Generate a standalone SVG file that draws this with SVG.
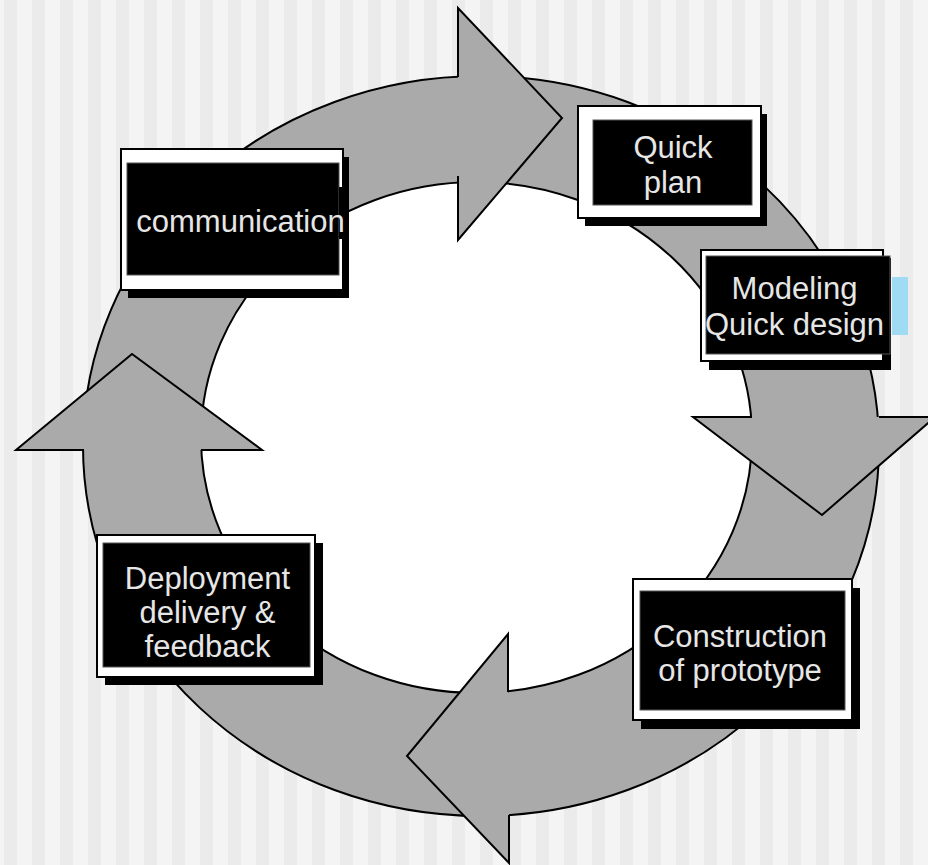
<svg xmlns="http://www.w3.org/2000/svg" width="928" height="865" viewBox="0 0 928 865">
<defs>
<pattern id="stripes" patternUnits="userSpaceOnUse" x="0" y="0" width="28" height="10">
<rect x="0" y="0" width="28" height="10" fill="#f4f4f4"/>
<rect x="4" y="0" width="13" height="10" fill="#ebebeb"/>
</pattern>
<style>
.ring{fill:#aaaaaa;stroke:#000;stroke-width:2}
.hole{fill:#ffffff;stroke:#000;stroke-width:2}
.head{fill:#aaaaaa;stroke:#000;stroke-width:2;stroke-linejoin:miter}
.frame{fill:#ffffff;stroke:#000;stroke-width:2}
.shadow{fill:#000}
.inner{fill:#000;stroke:#555;stroke-width:1}
.label{font-family:"Liberation Sans",Arial,sans-serif;font-size:31px;fill:#e6e6e6;text-anchor:middle}
</style>
</defs>
<rect x="0" y="0" width="928" height="865" fill="url(#stripes)"/>
<g id="connectors">
<ellipse class="ring" cx="481" cy="446" rx="398" ry="370"/>
<ellipse class="hole" cx="476.5" cy="437.5" rx="275.5" ry="255.5"/>
<path class="head" d="M458,77 L458,8 L562,118 L458,240 L458,176"/>
<path class="head" d="M752,417 L693,417 L822,515 L935,417 L879,417"/>
<path class="head" d="M508,692 L508,634 L407,756 L509,863 L509,815"/>
<path class="head" d="M84,450 L16,450 L132,354 L262,450 L201,450"/>
</g>
<rect x="892" y="277" width="16" height="58" fill="#9fdcf3"/>
<g id="node-communication">
<rect class="shadow" x="128" y="157" width="221" height="141"/>
<rect class="frame" x="121" y="149" width="222" height="141"/>
<rect class="inner" x="127" y="163" width="212" height="112"/>
<rect class="shadow" x="339" y="187" width="9" height="52"/>
<text class="label" x="240.5" y="232">communication</text>
</g>
<g id="node-quick-plan">
<rect class="shadow" x="585" y="114" width="182" height="112"/>
<rect class="frame" x="578" y="106" width="183" height="112"/>
<rect class="inner" x="593" y="120" width="159" height="85"/>
<text class="label" x="673" y="158">Quick</text>
<text class="label" x="673" y="193">plan</text>
</g>
<g id="node-modeling">
<rect class="shadow" x="709" y="258" width="182" height="112"/>
<rect class="frame" x="701" y="250" width="182" height="111"/>
<rect class="inner" x="706" y="256" width="184" height="98"/>
<text class="label" x="794.5" y="299">Modeling</text>
<text class="label" x="794.5" y="335">Quick design</text>
</g>
<g id="node-construction">
<rect class="shadow" x="641" y="588" width="219" height="141"/>
<rect class="frame" x="633" y="579" width="219" height="141"/>
<rect class="inner" x="640" y="591" width="205" height="119"/>
<text class="label" x="740" y="647">Construction</text>
<text class="label" x="740" y="681">of prototype</text>
</g>
<g id="node-deployment">
<rect class="shadow" x="105" y="543" width="218" height="142"/>
<rect class="frame" x="97" y="535" width="218" height="142"/>
<rect class="inner" x="103" y="543" width="207" height="124"/>
<text class="label" x="207.5" y="589">Deployment</text>
<text class="label" x="207.5" y="623">delivery &amp;</text>
<text class="label" x="207.5" y="657">feedback</text>
</g>
</svg>
